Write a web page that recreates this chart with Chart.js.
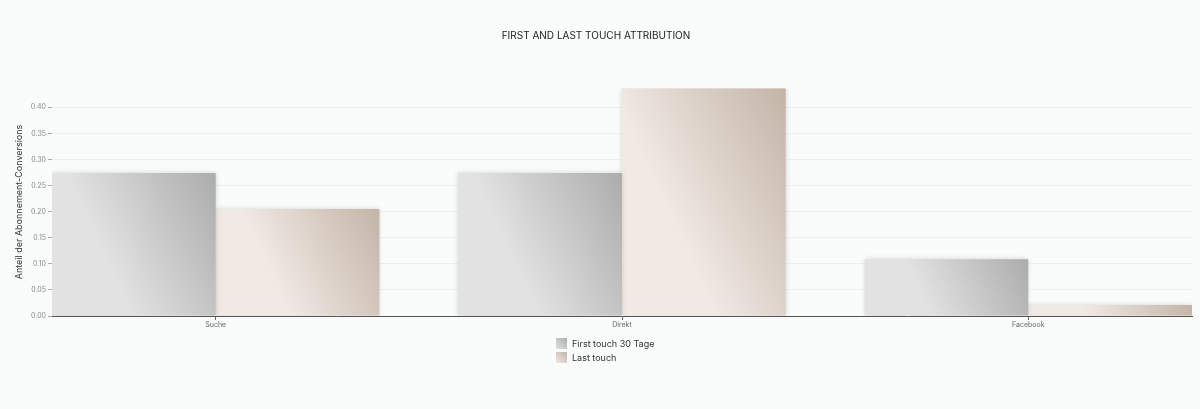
<!DOCTYPE html>
<html>
<head>
<meta charset="utf-8">
<script src="https://cdn.jsdelivr.net/npm/chart.js@4"></script>
<style>
  html, body { margin: 0; padding: 0; background: #fafbfb; }
  #wrap { position: relative; width: 1200px; height: 409px; }
  #legend { position: absolute; top: 336px; left: 556px; font: 9px Inter, sans-serif; color: #333; }
  #legend div { display: flex; align-items: center; height: 14px; }
  #legend span.box { width: 11px; height: 11px; margin-right: 5px; display: inline-block; }
</style>
</head>
<body>
<div id="wrap">
  <canvas id="chart" width="1200" height="409"></canvas>
  <div id="legend"></div>
</div>
<script>
// Daten
const categories = ['Suche', 'Direkt', 'Facebook'];
const firstTouch = [0.274, 0.274, 0.109];
const lastTouch = [0.205, 0.436, 0.021];
const seriesNames = ['First touch 30 Tage', 'Last touch'];
const yMax = 0.437;

// Farben der Verläufe (hell -> dunkel)
const gradColors = [
    ['#e2e2e2', '#acacac'],
    ['#f1e9e4', '#c3b4a7']
];

const catPct = 0.806;
const gradAngle = 25 * Math.PI / 180;

function barGradient(context) {
    const chart = context.chart;
    const xs = chart.scales.x;
    const ys = chart.scales.y;
    const fallback = gradColors[context.datasetIndex][0];
    if (!xs || !ys || context.type !== 'data') return fallback;
    const i = context.dataIndex;
    const band = xs.getPixelForValue(1) - xs.getPixelForValue(0);
    const w = band * catPct / 2;
    const cx = xs.getPixelForValue(i);
    const left = context.datasetIndex === 0 ? cx - w : cx;
    const v = context.datasetIndex === 0 ? firstTouch[i] : lastTouch[i];
    const top = ys.getPixelForValue(v);
    const bottom = ys.getPixelForValue(0);
    if (![left, w, top, bottom].every(Number.isFinite) || w <= 0) return fallback;
    const h = bottom - top;
    const L = w * Math.cos(gradAngle) + h * Math.sin(gradAngle);
    const g = chart.ctx.createLinearGradient(left, bottom,
        left + L * Math.cos(gradAngle), bottom - L * Math.sin(gradAngle));
    const c = gradColors[context.datasetIndex];
    g.addColorStop(0, c[0]);
    g.addColorStop(0.35, c[0]);
    g.addColorStop(1, c[1]);
    return g;
}

// weicher Schatten um die Balken
const shadowPlugin = {
    id: 'barShadow',
    beforeDatasetDraw(chart) {
        const ctx = chart.ctx;
        ctx.save();
        ctx.shadowColor = 'rgba(0,0,0,0.16)';
        ctx.shadowBlur = 5;
        ctx.shadowOffsetX = 0;
        ctx.shadowOffsetY = 0;
    },
    afterDatasetDraw(chart) {
        chart.ctx.restore();
    }
};

function initChart() {
    const ctx = document.getElementById('chart').getContext('2d');
    const chart = new Chart(ctx, {
        type: 'bar',
        data: {
            datasets: [
                {
                    label: seriesNames[0],
                    data: firstTouch.map((v, i) => ({ x: i, y: v })),
                    backgroundColor: barGradient,
                    borderWidth: 0,
                    categoryPercentage: catPct,
                    barPercentage: 1
                },
                {
                    label: seriesNames[1],
                    data: lastTouch.map((v, i) => ({ x: i, y: v })),
                    backgroundColor: barGradient,
                    borderWidth: 0,
                    categoryPercentage: catPct,
                    barPercentage: 1
                }
            ]
        },
        options: {
            responsive: false,
            animation: false,
            layout: { padding: { left: 0, right: 8, top: 0, bottom: 0 } },
            plugins: {
                legend: { display: false },
                tooltip: { enabled: false },
                title: {
                    display: true,
                    text: 'FIRST AND LAST TOUCH ATTRIBUTION',
                    color: '#222',
                    font: { family: 'Inter', size: 10, weight: 'normal' },
                    padding: { top: 30, bottom: 46 }
                }
            },
            scales: {
                x: {
                    type: 'linear',
                    min: -0.403,
                    max: 2.403,
                    offset: false,
                    afterFit(scale) { scale.height = 93; },
                    afterBuildTicks(scale) {
                        scale.ticks = categories.map((c, i) => ({ value: i }));
                    },
                    ticks: {
                        callback: (v) => categories[v],
                        color: '#666',
                        font: { family: 'Inter', size: 7 },
                        padding: 1,
                        maxRotation: 0
                    },
                    grid: { display: true, offset: false, drawOnChartArea: false, tickLength: 4, color: '#666' },
                    border: { display: true, color: '#555', width: 1 }
                },
                y: {
                    min: 0,
                    max: yMax,
                    afterFit(scale) { scale.width = 52; },
                    ticks: {
                        stepSize: 0.05,
                        includeBounds: false,
                        callback: (v) => v.toFixed(2),
                        color: '#888',
                        font: { family: 'Inter', size: 7 },
                        padding: 2
                    },
                    grid: { color: '#eef0f0', tickLength: 4, tickColor: '#aaa' },
                    border: { display: false },
                    title: {
                        display: true,
                        text: 'Anteil der Abonnement-Conversions',
                        color: '#333',
                        font: { family: 'Inter', size: 9 },
                        padding: { top: 14, bottom: 0 }
                    }
                }
            }
        },
        plugins: [shadowPlugin]
    });
    // zweiter Durchlauf, damit die Verläufe die fertigen Skalen nutzen
    chart.update();
}

// Legende als HTML
function buildLegend() {
    const el = document.getElementById('legend');
    seriesNames.forEach((name, i) => {
        const row = document.createElement('div');
        row.innerHTML = `<span class="box" style="background: linear-gradient(45deg, ${gradColors[i][0]}, ${gradColors[i][1]})"></span>${name}`;
        el.appendChild(row);
    });
}

initChart();
buildLegend();
</script>
</body>
</html>
